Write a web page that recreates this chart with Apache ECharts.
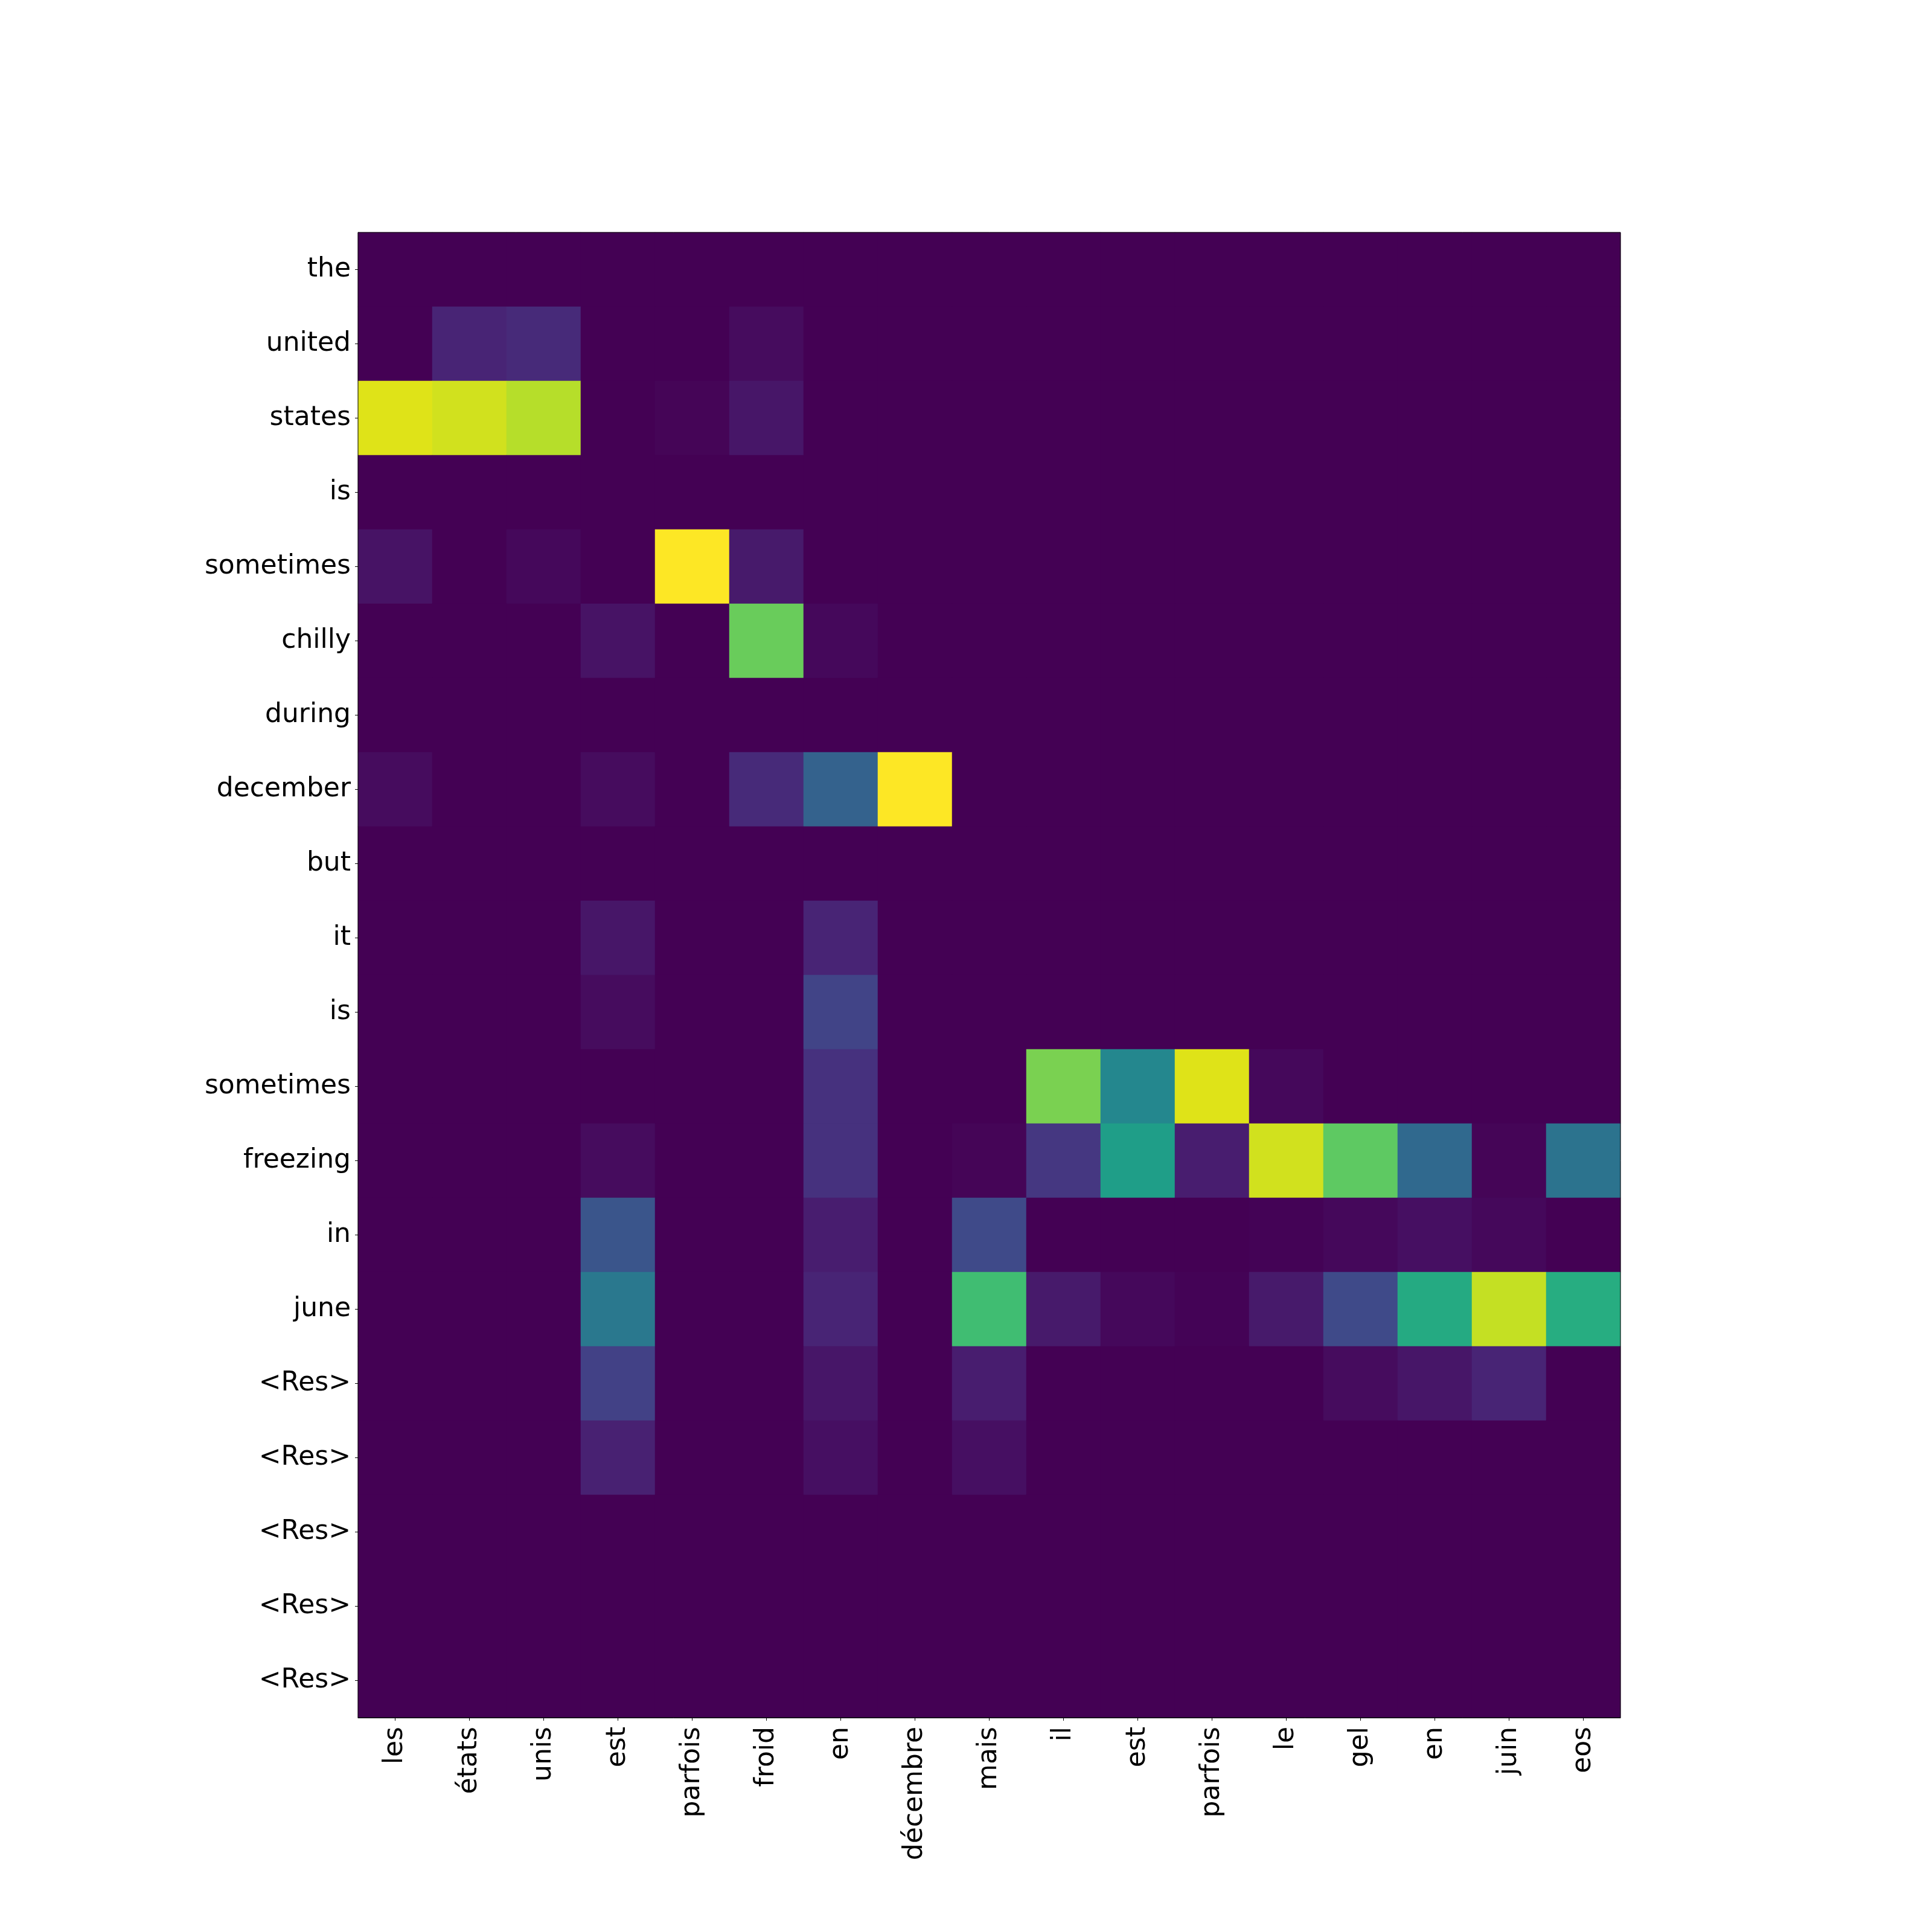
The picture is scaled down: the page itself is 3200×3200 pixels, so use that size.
<!DOCTYPE html>
<html>
<head>
<meta charset="utf-8">
<script src="https://cdn.jsdelivr.net/npm/echarts@6/dist/echarts.min.js"></script>
<style>html,body{margin:0;padding:0;background:#fff;}#c{width:3200px;height:3200px;}</style>
</head>
<body>
<div id="c"></div>
<script>
// French (source) tokens on x axis
const xLabels = ['les','états','unis','est','parfois','froid','en','décembre','mais','il','est','parfois','le','gel','en','juin','eos'];
// English (output) tokens on y axis
const yLabels = ['the','united','states','is','sometimes','chilly','during','december','but','it','is','sometimes','freezing','in','june','<Res>','<Res>','<Res>','<Res>','<Res>'];
// attention weights, one row per y label, one column per x label
const weights = [
  [0,0,0,0,0,0,0,0,0,0,0,0,0,0,0,0,0],
  [0,0.10,0.12,0,0,0.03,0,0,0,0,0,0,0,0,0,0,0],
  [0.95,0.93,0.89,0,0.01,0.06,0,0,0,0,0,0,0,0,0,0,0],
  [0,0,0,0,0,0,0,0,0,0,0,0,0,0,0,0,0],
  [0.05,0,0.02,0,1.0,0.07,0,0,0,0,0,0,0,0,0,0,0],
  [0,0,0,0.05,0,0.77,0.02,0,0,0,0,0,0,0,0,0,0],
  [0,0,0,0,0,0,0,0,0,0,0,0,0,0,0,0,0],
  [0.03,0,0,0.03,0,0.12,0.31,1.0,0,0,0,0,0,0,0,0,0],
  [0,0,0,0,0,0,0,0,0,0,0,0,0,0,0,0,0],
  [0,0,0,0.06,0,0,0.10,0,0,0,0,0,0,0,0,0,0],
  [0,0,0,0.03,0,0,0.20,0,0,0,0,0,0,0,0,0,0],
  [0,0,0,0,0,0,0.14,0,0,0.80,0.46,0.95,0.02,0,0,0,0],
  [0,0,0,0.03,0,0,0.14,0,0.01,0.16,0.56,0.08,0.93,0.75,0.34,0.01,0.38],
  [0,0,0,0.26,0,0,0.08,0,0.22,0,0,0,0.005,0.02,0.04,0.02,0],
  [0,0,0,0.40,0,0,0.10,0,0.69,0.07,0.02,0.005,0.07,0.22,0.61,0.91,0.62],
  [0,0,0,0.19,0,0,0.06,0,0.08,0,0,0,0,0.03,0.06,0.10,0],
  [0,0,0,0.09,0,0,0.04,0,0.04,0,0,0,0,0,0,0,0],
  [0,0,0,0,0,0,0,0,0,0,0,0,0,0,0,0,0],
  [0,0,0,0,0,0,0,0,0,0,0,0,0,0,0,0,0],
  [0,0,0,0,0,0,0,0,0,0,0,0,0,0,0,0,0]
];
const viridis = ['#440154','#471365','#482475','#463480','#414487','#3b528b','#355f8d','#2f6c8e','#2a788e','#25848e','#21918c','#1e9c89','#22a884','#2fb47c','#44bf70','#5ec962','#7ad151','#9bd93c','#bddf26','#dfe318','#fde725'];

const data = [];
weights.forEach((row, yi) => row.forEach((v, xi) => data.push([xi, yi, v])));

const font = 'DejaVu Sans';
const chart = echarts.init(document.getElementById('c'), null, {renderer: 'canvas'});
chart.setOption({
  animation: false,
  backgroundColor: '#ffffff',
  grid: {left: 593, top: 385, width: 2091, height: 2460, show: true, borderColor: '#000', borderWidth: 1, backgroundColor: 'transparent', z: 10},
  xAxis: {
    type: 'category', data: xLabels, position: 'bottom',
    axisLine: {show: true, lineStyle: {color: '#000', width: 1}},
    axisTick: {show: true, alignWithLabel: true, length: 5, lineStyle: {color: '#000', width: 1}},
    axisLabel: {rotate: 90, fontSize: 44, fontFamily: font, color: '#000', margin: 15, interval: 0},
    splitLine: {show: false}
  },
  yAxis: {
    type: 'category', data: yLabels, inverse: true,
    axisLine: {show: true, lineStyle: {color: '#000', width: 1}},
    axisTick: {show: true, alignWithLabel: true, length: 5, lineStyle: {color: '#000', width: 1}},
    axisLabel: {fontSize: 44, fontFamily: font, color: '#000', margin: 12, interval: 0, padding: [9, 0, 0, 0]},
    splitLine: {show: false}
  },
  visualMap: {show: false, min: 0, max: 1, calculable: false, inRange: {color: viridis}, dimension: 2},
  series: [{
    type: 'heatmap', data: data, progressive: 0,
    itemStyle: {borderWidth: 0},
    emphasis: {disabled: true}
  }]
});
</script>
</body>
</html>
